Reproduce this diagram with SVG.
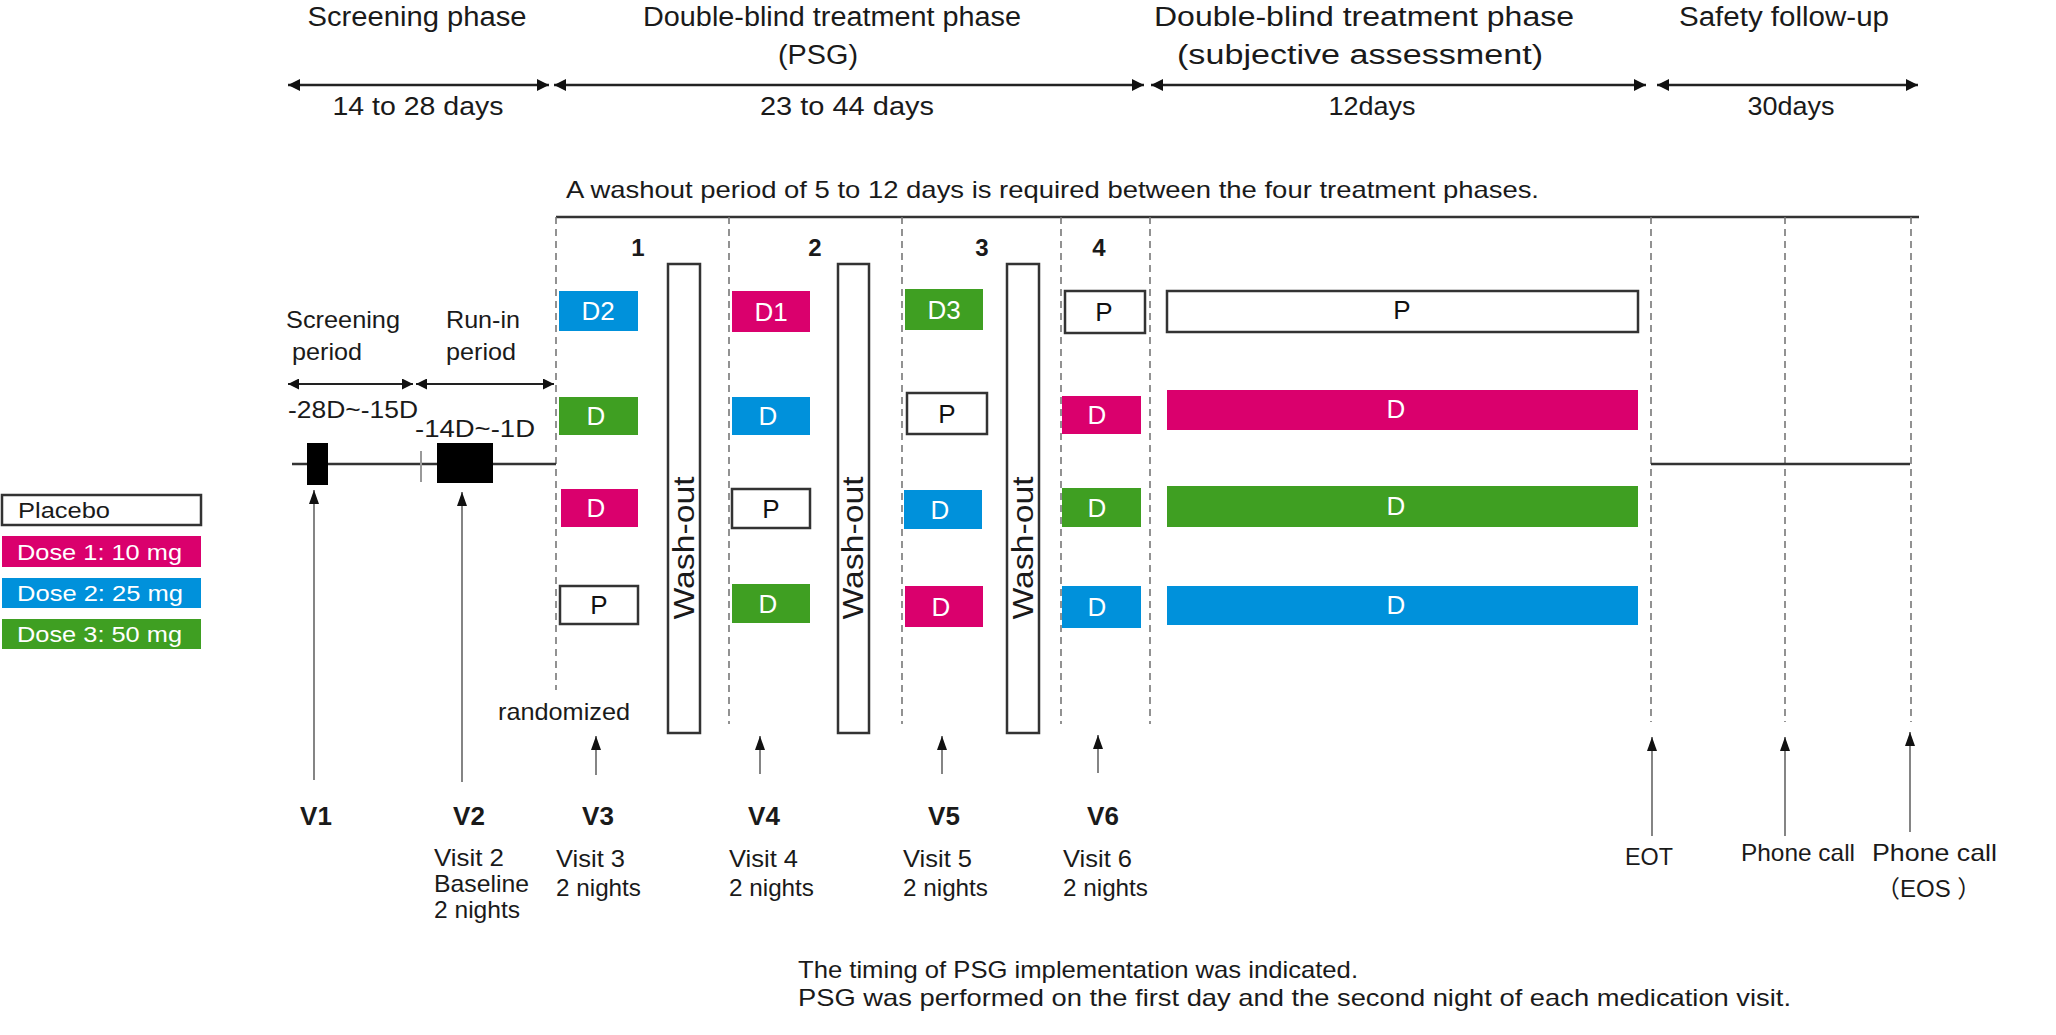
<svg xmlns="http://www.w3.org/2000/svg" width="2056" height="1035" viewBox="0 0 2056 1035">
<defs>
<style>
text{font-family:"Liberation Sans",Arial,sans-serif;fill:#1a1a1a}
.hdr{font-size:27px;text-anchor:middle}
.dur{font-size:25px;text-anchor:middle}
.lbl{font-size:24px}
.mid{text-anchor:middle}
.vlb{font-size:26px;font-weight:bold;text-anchor:middle}
.num{font-size:24px;font-weight:bold;text-anchor:middle}
.bt{font-size:26px;fill:#fff;text-anchor:middle}
.pt{font-size:26px;fill:#111;text-anchor:middle}
.lg{font-size:22px;fill:#fff}
.mag{fill:#DA006D}
.blu{fill:#0091DB}
.grn{fill:#3F9F22}
.plc{fill:#fff;stroke:#333;stroke-width:2.5}
.wo{fill:#fff;stroke:#333;stroke-width:2.5}
.wot{font-size:29px;text-anchor:middle}
.dash{stroke:#777;stroke-width:1.6;stroke-dasharray:7 5;fill:none}
.solid{stroke:#333;stroke-width:2.5;fill:none}
.harrow{stroke:#222;stroke-width:2.5;fill:none;marker-start:url(#ah);marker-end:url(#ah)}
.sarrow{stroke:#222;stroke-width:2;fill:none;marker-start:url(#ah2);marker-end:url(#ah2)}
.uarrow{stroke:#666;stroke-width:1.6;fill:none;marker-end:url(#uh)}
</style>
<marker id="ah" viewBox="0 0 12 12" refX="12" refY="6" markerWidth="12" markerHeight="12" markerUnits="userSpaceOnUse" orient="auto-start-reverse"><path d="M0,0 L12,6 L0,12 z" fill="#111"/></marker>
<marker id="ah2" viewBox="0 0 11 11" refX="11" refY="5.5" markerWidth="11" markerHeight="11" markerUnits="userSpaceOnUse" orient="auto-start-reverse"><path d="M0,0 L11,5.5 L0,11 z" fill="#111"/></marker>
<marker id="uh" viewBox="0 0 14 10" refX="14" refY="5" markerWidth="14" markerHeight="10" markerUnits="userSpaceOnUse" orient="auto"><path d="M0,0 L14,5 L0,10 z" fill="#111"/></marker>
</defs>
<rect x="0" y="0" width="2056" height="1035" fill="#fff"/>

<g id="headers">
<text class="hdr" x="417" y="26" textLength="219" lengthAdjust="spacingAndGlyphs">Screening phase</text>
<text class="hdr" x="832" y="26" textLength="378" lengthAdjust="spacingAndGlyphs">Double-blind treatment phase</text>
<text class="hdr" x="818" y="64" textLength="80" lengthAdjust="spacingAndGlyphs">(PSG)</text>
<text class="hdr" x="1364" y="26" textLength="420" lengthAdjust="spacingAndGlyphs">Double-blind treatment phase</text>
<text class="hdr" x="1360" y="64" textLength="366" lengthAdjust="spacingAndGlyphs">(subjective  assessment)</text>
<text class="hdr" x="1784" y="26" textLength="210" lengthAdjust="spacingAndGlyphs">Safety follow-up</text>
<text class="dur" x="418" y="115" textLength="171" lengthAdjust="spacingAndGlyphs">14 to 28 days</text>
<text class="dur" x="847" y="115" textLength="174" lengthAdjust="spacingAndGlyphs">23 to 44 days</text>
<text class="dur" x="1372" y="115" textLength="87" lengthAdjust="spacingAndGlyphs">12days</text>
<text class="dur" x="1791" y="115" textLength="87" lengthAdjust="spacingAndGlyphs">30days</text>
<text class="lbl" x="566" y="198" font-size="25" textLength="973" lengthAdjust="spacingAndGlyphs">A washout period of 5 to 12 days is required between the four treatment phases.</text>
</g>

<g id="connectors">
<line class="harrow" x1="288" y1="85" x2="549" y2="85"/>
<line class="harrow" x1="554" y1="85" x2="1144" y2="85"/>
<line class="harrow" x1="1151" y1="85" x2="1646" y2="85"/>
<line class="harrow" x1="1657" y1="85" x2="1918" y2="85"/>
<line class="solid" x1="556" y1="217" x2="1919" y2="217"/>
<line class="dash" x1="556" y1="217" x2="556" y2="690"/>
<line class="dash" x1="729" y1="217" x2="729" y2="724"/>
<line class="dash" x1="902" y1="217" x2="902" y2="724"/>
<line class="dash" x1="1061" y1="217" x2="1061" y2="724"/>
<line class="dash" x1="1150" y1="217" x2="1150" y2="724"/>
<line class="dash" x1="1651" y1="217" x2="1651" y2="722"/>
<line class="dash" x1="1785" y1="217" x2="1785" y2="722"/>
<line class="dash" x1="1911" y1="217" x2="1911" y2="722"/>
<line class="solid" x1="1651" y1="464" x2="1910" y2="464"/>
<line class="sarrow" x1="288" y1="384" x2="413" y2="384"/>
<line class="sarrow" x1="416" y1="384" x2="554" y2="384"/>
<line class="solid" x1="292" y1="464" x2="556" y2="464" stroke-width="2.2"/>
<line x1="421" y1="451" x2="421" y2="482" stroke="#999" stroke-width="2"/>
<line class="uarrow" x1="314" y1="780" x2="314" y2="490"/>
<line class="uarrow" x1="462" y1="782" x2="462" y2="492"/>
<line class="uarrow" x1="596" y1="775" x2="596" y2="736"/>
<line class="uarrow" x1="760" y1="774" x2="760" y2="736"/>
<line class="uarrow" x1="942" y1="774" x2="942" y2="736"/>
<line class="uarrow" x1="1098" y1="773" x2="1098" y2="735"/>
<line class="uarrow" x1="1652" y1="836" x2="1652" y2="737"/>
<line class="uarrow" x1="1785" y1="836" x2="1785" y2="737"/>
<line class="uarrow" x1="1910" y1="832" x2="1910" y2="732"/>
</g>

<g id="legend">
<g id="leg-placebo"><rect class="plc" x="2" y="495" width="199" height="30" stroke-width="3"/><text x="18" y="518" font-size="22" textLength="92" lengthAdjust="spacingAndGlyphs">Placebo</text></g>
<g id="leg-dose1"><rect class="mag" x="2" y="536" width="199" height="31"/><text class="lg" x="17" y="560" textLength="165" lengthAdjust="spacingAndGlyphs">Dose 1: 10 mg</text></g>
<g id="leg-dose2"><rect class="blu" x="2" y="578" width="199" height="30"/><text class="lg" x="17" y="601" textLength="166" lengthAdjust="spacingAndGlyphs">Dose 2: 25 mg</text></g>
<g id="leg-dose3"><rect class="grn" x="2" y="619" width="199" height="30"/><text class="lg" x="17" y="642" textLength="165" lengthAdjust="spacingAndGlyphs">Dose 3: 50 mg</text></g>
</g>

<g id="screening">
<text class="lbl" x="286" y="328" textLength="114" lengthAdjust="spacingAndGlyphs">Screening</text>
<text class="lbl" x="292" y="360" textLength="70" lengthAdjust="spacingAndGlyphs">period</text>
<text class="lbl" x="446" y="328" textLength="74" lengthAdjust="spacingAndGlyphs">Run-in</text>
<text class="lbl" x="446" y="360" textLength="70" lengthAdjust="spacingAndGlyphs">period</text>
<text class="lbl" x="288" y="418" textLength="130" lengthAdjust="spacingAndGlyphs">-28D~-15D</text>
<text class="lbl" x="415" y="437" textLength="120" lengthAdjust="spacingAndGlyphs">-14D~-1D</text>
<rect id="v1-block" x="307" y="443" width="21" height="42" fill="#000"/>
<rect id="v2-block" x="437" y="443" width="56" height="40" fill="#000"/>
</g>

<g id="phase-numbers">
<text class="num" x="638" y="256">1</text>
<text class="num" x="815" y="256">2</text>
<text class="num" x="982" y="256">3</text>
<text class="num" x="1099" y="256">4</text>
</g>

<g id="period1">
<g id="p1r1"><rect class="blu" x="559" y="291" width="79" height="40"/><text class="bt" x="598" y="320">D2</text></g>
<g id="p1r2"><rect class="grn" x="559" y="397" width="79" height="38"/><text class="bt" x="596" y="425">D</text></g>
<g id="p1r3"><rect class="mag" x="561" y="489" width="77" height="38"/><text class="bt" x="596" y="517">D</text></g>
<g id="p1r4"><rect class="plc" x="560" y="586" width="78" height="38"/><text class="pt" x="599" y="614">P</text></g>
</g>
<g id="washout1"><rect class="wo" x="668" y="264" width="32" height="469"/><text class="wot" transform="translate(694,548) rotate(-90)" textLength="143" lengthAdjust="spacingAndGlyphs">Wash-out</text></g>

<g id="period2">
<g id="p2r1"><rect class="mag" x="732" y="291" width="78" height="41"/><text class="bt" x="771" y="321">D1</text></g>
<g id="p2r2"><rect class="blu" x="732" y="397" width="78" height="38"/><text class="bt" x="768" y="425">D</text></g>
<g id="p2r3"><rect class="plc" x="732" y="489" width="78" height="39"/><text class="pt" x="771" y="518">P</text></g>
<g id="p2r4"><rect class="grn" x="732" y="584" width="78" height="39"/><text class="bt" x="768" y="613">D</text></g>
</g>
<g id="washout2"><rect class="wo" x="838" y="264" width="31" height="469"/><text class="wot" transform="translate(863,548) rotate(-90)" textLength="143" lengthAdjust="spacingAndGlyphs">Wash-out</text></g>

<g id="period3">
<g id="p3r1"><rect class="grn" x="905" y="289" width="78" height="41"/><text class="bt" x="944" y="319">D3</text></g>
<g id="p3r2"><rect class="plc" x="907" y="393" width="80" height="41"/><text class="pt" x="947" y="423">P</text></g>
<g id="p3r3"><rect class="blu" x="904" y="490" width="78" height="39"/><text class="bt" x="940" y="519">D</text></g>
<g id="p3r4"><rect class="mag" x="905" y="586" width="78" height="41"/><text class="bt" x="941" y="616">D</text></g>
</g>
<g id="washout3"><rect class="wo" x="1007" y="264" width="32" height="469"/><text class="wot" transform="translate(1033,548) rotate(-90)" textLength="143" lengthAdjust="spacingAndGlyphs">Wash-out</text></g>

<g id="period4">
<g id="p4r1"><rect class="plc" x="1065" y="291" width="80" height="42"/><text class="pt" x="1104" y="321">P</text></g>
<g id="p4r2"><rect class="mag" x="1062" y="396" width="79" height="38"/><text class="bt" x="1097" y="424">D</text></g>
<g id="p4r3"><rect class="grn" x="1062" y="488" width="79" height="39"/><text class="bt" x="1097" y="517">D</text></g>
<g id="p4r4"><rect class="blu" x="1062" y="586" width="79" height="42"/><text class="bt" x="1097" y="616">D</text></g>
</g>

<g id="subjective">
<g id="s1"><rect class="plc" x="1167" y="291" width="471" height="41"/><text class="pt" x="1402" y="319">P</text></g>
<g id="s2"><rect class="mag" x="1167" y="390" width="471" height="40"/><text class="bt" x="1396" y="418">D</text></g>
<g id="s3"><rect class="grn" x="1167" y="486" width="471" height="41"/><text class="bt" x="1396" y="515">D</text></g>
<g id="s4"><rect class="blu" x="1167" y="586" width="471" height="39"/><text class="bt" x="1396" y="614">D</text></g>
</g>

<g id="visits">
<text class="lbl" x="498" y="720" textLength="132" lengthAdjust="spacingAndGlyphs">randomized</text>
<text class="vlb" x="316" y="825">V1</text>
<text class="vlb" x="469" y="825">V2</text>
<text class="vlb" x="598" y="825">V3</text>
<text class="vlb" x="764" y="825">V4</text>
<text class="vlb" x="944" y="825">V5</text>
<text class="vlb" x="1103" y="825">V6</text>
<text class="lbl" x="434" y="866" textLength="70" lengthAdjust="spacingAndGlyphs">Visit 2</text>
<text class="lbl" x="434" y="892" textLength="95" lengthAdjust="spacingAndGlyphs">Baseline</text>
<text class="lbl" x="434" y="918" textLength="86" lengthAdjust="spacingAndGlyphs">2 nights</text>
<text class="lbl" x="556" y="867" textLength="69" lengthAdjust="spacingAndGlyphs">Visit 3</text>
<text class="lbl" x="556" y="896" textLength="85" lengthAdjust="spacingAndGlyphs">2 nights</text>
<text class="lbl" x="729" y="867" textLength="69" lengthAdjust="spacingAndGlyphs">Visit 4</text>
<text class="lbl" x="729" y="896" textLength="85" lengthAdjust="spacingAndGlyphs">2 nights</text>
<text class="lbl" x="903" y="867" textLength="69" lengthAdjust="spacingAndGlyphs">Visit 5</text>
<text class="lbl" x="903" y="896" textLength="85" lengthAdjust="spacingAndGlyphs">2 nights</text>
<text class="lbl" x="1063" y="867" textLength="69" lengthAdjust="spacingAndGlyphs">Visit 6</text>
<text class="lbl" x="1063" y="896" textLength="85" lengthAdjust="spacingAndGlyphs">2 nights</text>
<text class="lbl" x="1625" y="865" textLength="48" lengthAdjust="spacingAndGlyphs">EOT</text>
<text class="lbl" x="1741" y="861" textLength="114" lengthAdjust="spacingAndGlyphs">Phone call</text>
<text class="lbl" x="1872" y="861" textLength="125" lengthAdjust="spacingAndGlyphs">Phone call</text>
<text class="lbl" x="1876" y="897" style="font-family:'Liberation Sans','Noto Sans CJK SC',sans-serif">（EOS ）</text>
</g>

<g id="notes">
<text class="lbl" x="798" y="978" textLength="560" lengthAdjust="spacingAndGlyphs">The timing of PSG implementation was indicated.</text>
<text class="lbl" x="798" y="1006" textLength="993" lengthAdjust="spacingAndGlyphs">PSG was performed on the first day and the second night of each medication visit.</text>
</g>
</svg>
